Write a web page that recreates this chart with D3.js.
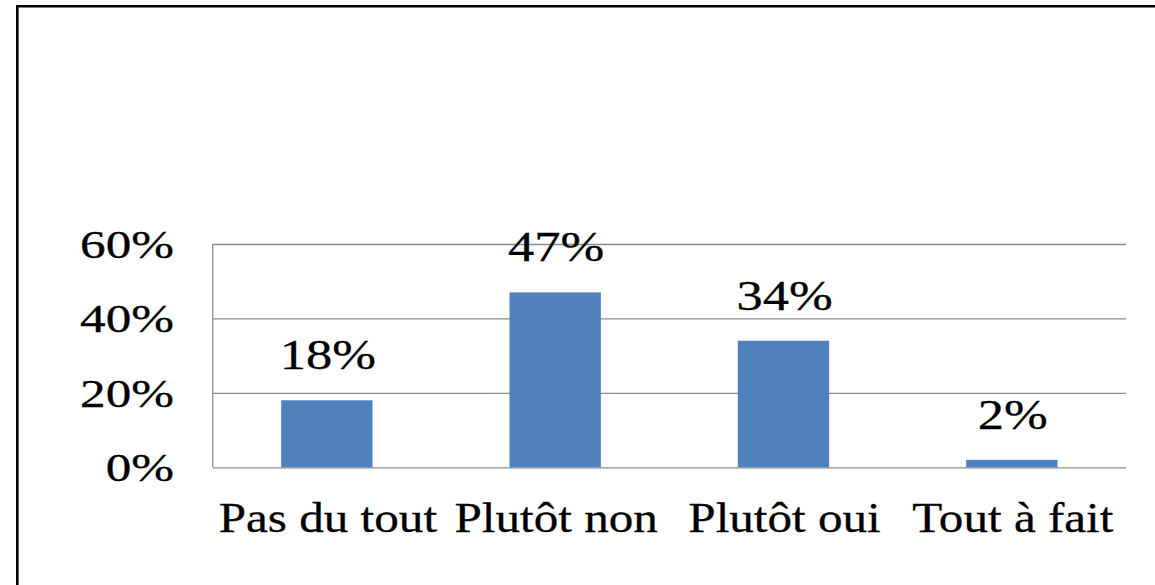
<!DOCTYPE html>
<html><head><meta charset="utf-8">
<script src="https://cdn.jsdelivr.net/npm/d3@7"></script>
<style>html,body{margin:0;padding:0;background:#fff;}svg{display:block;} text{font-family:"Liberation Serif","Times New Roman","DejaVu Serif",serif;}</style>
</head><body>
<svg id="chart" width="1155" height="585"></svg>
<script>
const categories = ["Pas du tout", "Plutôt non", "Plutôt oui", "Tout à fait"];
const values = [0.18, 0.47, 0.34, 0.02];
const valueLabels = ["18%", "47%", "34%", "2%"];
const yTicks = [0, 0.2, 0.4, 0.6];

const svg = d3.select("#chart");
const W = 1155, H = 585;
const m = {left: 212.7, right: 1126, top: 244, bottom: 467.3};
const numScale = 1.25, catScale = 1.17;

const x = d3.scaleBand().domain(categories).range([m.left, m.right]).paddingInner(0.6).paddingOuter(0.3);
const y = d3.scaleLinear().domain([0, 0.6]).range([m.bottom, m.top]);

// frame (top and left only)
svg.append("path").attr("d", `M17.3,${H} L17.3,6.3 L${W},6.3`).attr("fill","none").attr("stroke","#000").attr("stroke-width",2.6);

// gridlines via axis
const grid = svg.append("g").attr("transform", `translate(${m.left},0)`)
  .call(d3.axisLeft(y).tickValues(yTicks).tickSize(-(m.right - m.left)).tickFormat(""));
grid.select(".domain").remove();
grid.selectAll("line").attr("stroke", "#8c8c8c").attr("stroke-width", 1.3);

// left axis line
svg.append("line").attr("x1", m.left).attr("x2", m.left).attr("y1", y(0.6)).attr("y2", y(0))
  .attr("stroke", "#8c8c8c").attr("stroke-width", 1.3);

// tick labels
svg.append("g").selectAll("text").data(yTicks).join("text")
  .attr("transform", d => `translate(174,${y(d) + 14}) scale(${numScale},1)`)
  .attr("text-anchor", "end")
  .attr("font-size", 41)
  .attr("fill", "#000").attr("stroke", "#000").attr("stroke-width", 0.3)
  .text(d3.format(".0%"));

// bars
svg.append("g").selectAll("rect").data(values).join("rect")
  .attr("x", (d, i) => x(categories[i]))
  .attr("width", x.bandwidth())
  .attr("y", d => y(d))
  .attr("height", d => y(0) - y(d))
  .attr("fill", "#4f81bd");

// value labels
svg.append("g").selectAll("text").data(values).join("text")
  .attr("transform", (d, i) => `translate(${x(categories[i]) + x.bandwidth() / 2 + 1},${y(d) - 31}) scale(${numScale},1)`)
  .attr("text-anchor", "middle")
  .attr("font-size", 42)
  .attr("fill", "#000").attr("stroke", "#000").attr("stroke-width", 0.3)
  .text((d, i) => valueLabels[i]);

// category labels
svg.append("g").selectAll("text").data(categories).join("text")
  .attr("transform", d => `translate(${x(d) + x.bandwidth() / 2 + 1},531.7) scale(${catScale},1)`)
  .attr("text-anchor", "middle")
  .attr("font-size", 42)
  .attr("fill", "#000").attr("stroke", "#000").attr("stroke-width", 0.3)
  .text(d => d);
</script>
</body></html>
